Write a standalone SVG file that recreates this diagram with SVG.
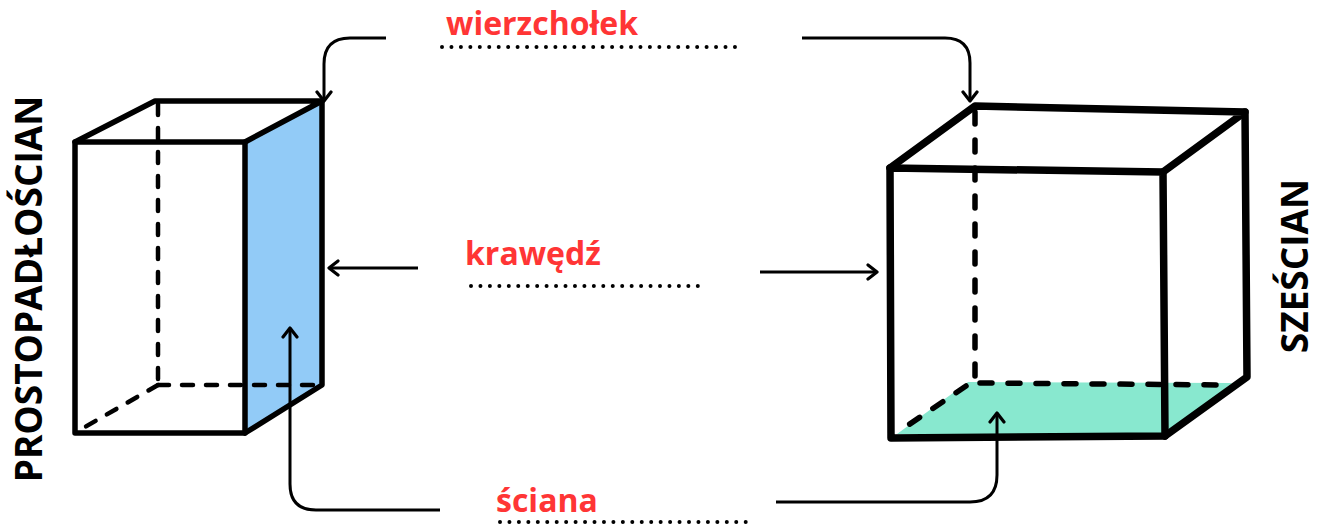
<svg xmlns="http://www.w3.org/2000/svg" width="1319" height="528" viewBox="0 0 1319 528">
<style>
.solid{fill:none;stroke:#000;stroke-linecap:round;stroke-linejoin:round}
.dash{fill:none;stroke:#000;stroke-linecap:round}
.conn{fill:none;stroke:#000;stroke-width:3;stroke-linecap:butt;stroke-linejoin:round}
.dots{fill:none;stroke:#000;stroke-width:4;stroke-linecap:round;stroke-dasharray:0 9.45}
.lbl{font-family:"Open Sans","Liberation Sans",sans-serif;font-weight:700;font-size:32px;fill:#FF3535}
.title{font-family:"Open Sans","Liberation Sans",sans-serif;font-weight:700;font-size:37px;fill:#000}
</style>
<defs>
<marker id="ah" viewBox="-11 -9 13 18" markerWidth="13" markerHeight="18" refX="0" refY="0" orient="auto" markerUnits="userSpaceOnUse">
<path d="M-9,-7 L0,0 L-9,7" fill="none" stroke="#000" stroke-width="3.2" stroke-linecap="round" stroke-linejoin="round"/>
</marker>
</defs>
<rect width="1319" height="528" fill="#fff"/>

<g id="prostopadloscian">
<polygon points="245,142 322,102 322,385 245,433" fill="#92CBF7"/>
<g class="dash" stroke-width="4.5" stroke-dasharray="11 13">
<path d="M158,104 V385"/>
<path d="M158,385 H322"/>
<path d="M158,385 L78,431"/>
</g>
<g class="solid" stroke-width="5.5">
<path d="M75,142 H245 V433 H75 Z"/>
<path d="M75,142 L155,101 H322 L245,142"/>
<path d="M322,102 V385 L245,433"/>
</g>
</g>

<g id="szescian">
<polygon points="897,434 968,382 1232,383 1168,434" fill="#88E8CF"/>
<g class="dash" stroke-width="5.5" stroke-dasharray="12 16">
<path d="M975,112 V380"/>
<path d="M980,383 L1230,385"/>
<path d="M966,386 L898,432"/>
</g>
<g class="solid" stroke-width="7.5">
<path d="M890,168 L1163,172 L1165,436 L891,438 Z"/>
<path d="M890,168 L975,106 L1245,112 L1163,172"/>
<path d="M1245,112 L1247,377 L1165,436"/>
</g>
</g>

<g id="label-wierzcholek">
<text class="lbl" x="446" y="35">wierzchołek</text>
<path class="dots" d="M442,47 H742"/>
</g>
<g id="label-krawedz">
<text class="lbl" x="465" y="265">krawędź</text>
<path class="dots" d="M471,286 H705"/>
</g>
<g id="label-sciana">
<text class="lbl" x="496" y="512">ściana</text>
<path class="dots" d="M500,522 H748"/>
</g>

<g id="title-left">
<text class="title" text-anchor="middle" transform="translate(42,289) rotate(-90)">PROSTOPADŁOŚCIAN</text>
</g>
<g id="title-right">
<text class="title" text-anchor="middle" transform="translate(1308,266) rotate(-90)">SZEŚCIAN</text>
</g>

<g id="connectors">
<path class="conn" d="M386,38 H350 Q324,38 324,64 V101" marker-end="url(#ah)"/>
<path class="conn" d="M802,38 H945 Q970,38 970,63 V101" marker-end="url(#ah)"/>
<path class="conn" d="M418,268 H329" marker-end="url(#ah)"/>
<path class="conn" d="M760,272 H877" marker-end="url(#ah)"/>
<path class="conn" d="M440,510 H316 Q290,510 290,484 V328" marker-end="url(#ah)"/>
<path class="conn" d="M776,502 H970 Q997,502 997,475 V413" marker-end="url(#ah)"/>
</g>
</svg>
